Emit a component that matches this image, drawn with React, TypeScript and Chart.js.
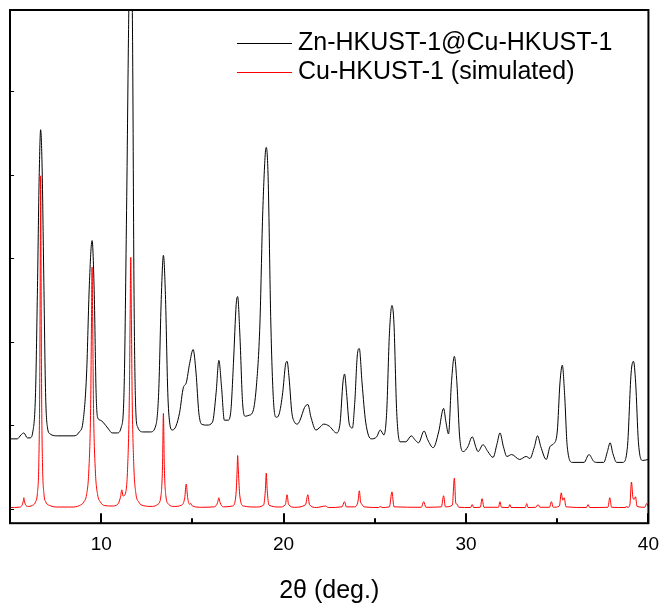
import React, { useEffect, useRef } from "react";
import { Chart, registerables } from "chart.js";

Chart.register(...registerables);

// ---- Data (2θ in degrees, intensity in arbitrary units) ----
const seriesLabels = ["Zn-HKUST-1@Cu-HKUST-1", "Cu-HKUST-1 (simulated)"];
const seriesColors = ["#000000", "#ff0000"];

const measuredTwoTheta = [
  5.0, 5.4, 5.6, 5.76, 5.95, 6.1, 6.25, 6.4, 6.5, 6.6, 6.68, 6.76, 6.85, 6.95, 7.05, 7.2, 7.6, 8.5,
  8.8, 9.0, 9.2, 9.35, 9.5, 9.62, 9.72, 9.8, 9.95, 10.1, 10.4, 10.6, 10.9, 11.1, 11.25, 11.4, 11.5,
  11.62, 11.72, 11.8, 11.9, 12.0, 12.3, 12.7, 13.0, 13.15, 13.3, 13.41, 13.52, 13.65, 13.75, 13.9,
  14.1, 14.3, 14.5, 14.66, 14.85, 15.04, 15.2, 15.35, 15.5, 15.8, 16.1, 16.3, 16.45, 16.6, 16.75,
  16.95, 17.1, 17.25, 17.4, 17.48, 17.6, 17.75, 17.9, 18.1, 18.3, 18.5, 18.7, 18.85, 19.0, 19.05,
  19.15, 19.3, 19.45, 19.6, 19.75, 19.95, 20.1, 20.19, 20.3, 20.45, 20.6, 20.75, 20.9, 21.15, 21.33,
  21.5, 21.77, 22.0, 22.2, 22.5, 22.9, 23.1, 23.25, 23.34, 23.45, 23.6, 23.77, 23.9, 24.05, 24.15,
  24.3, 24.5, 24.8, 25.1, 25.3, 25.5, 25.65, 25.8, 25.94, 26.05, 26.2, 26.38, 26.7, 27.0, 27.2, 27.4,
  27.7, 27.9, 28.2, 28.5, 28.77, 28.9, 29.04, 29.2, 29.36, 29.5, 29.65, 29.85, 30.1, 30.34, 30.55,
  30.66, 30.93, 31.2, 31.48, 31.7, 31.86, 32.05, 32.24, 32.5, 32.94, 33.3, 33.5, 33.75, 33.92, 34.1,
  34.4, 34.6, 34.8, 35.0, 35.15, 35.28, 35.4, 35.55, 35.82, 36.47, 36.74, 37.0, 37.18, 37.55, 37.75,
  37.9, 38.05, 38.26, 38.6, 38.85, 39.05, 39.18, 39.3, 39.45, 39.67, 40.0,
];
const measuredIntensity = [
  835, 835, 882, 906, 847, 847, 918, 1388, 2565, 3976, 4541, 4094, 2800, 1388, 976, 894, 871, 871,
  918, 1035, 1624, 2682, 3212, 2565, 1388, 1094, 1059, 1035, 953, 906, 906, 976, 1388, 3741, 5741,
  7400, 5600, 2565, 1153, 976, 918, 918, 1000, 1388, 2565, 3035, 2565, 1388, 1035, 941,
  988, 1153, 1447, 1506, 1741, 1906, 1624, 1153, 1012, 1000, 1035, 1388, 1776, 1447, 1059,
  1059, 1153, 1741, 2447, 2541, 2094, 1271, 1106, 1118, 1153, 1447, 2212, 3506, 4271, 4329,
  3976, 2212, 1271, 1094, 1129, 1388, 1718, 1765, 1565, 1153, 1035, 1012, 1059, 1212, 1247,
  1094, 941, 976, 1012, 988, 906, 1035, 1506, 1612, 1388, 1012, 965, 1271, 1859, 1918,
  1506, 1035, 835, 859, 941, 882, 1153, 2094, 2435, 2212, 1153, 800, 800, 871, 824, 788,
  929, 824, 729, 918, 1200, 1035, 894, 1506, 1824, 1506, 859, 682, 741, 859, 729,
  682, 765, 682, 612, 776, 906, 741, 624, 647, 588, 624, 600, 741, 871, 741,
  588, 741, 776, 918, 1506, 1718, 1388, 741, 553, 553, 647, 565, 553, 553, 682,
  788, 659, 553, 553, 741, 1624, 1765, 1506, 800, 576, 588,
];

const simulatedTwoTheta = [
  5.0, 5.5, 5.65, 5.72, 5.76, 5.8, 5.88, 6.0, 6.2, 6.4, 6.5, 6.58, 6.63, 6.66, 6.68, 6.7, 6.73, 6.78,
  6.86, 6.96, 7.2, 7.6, 8.4, 8.8, 9.05, 9.2, 9.32, 9.42, 9.47, 9.5, 9.53, 9.58, 9.68, 9.8, 9.95,
  10.2, 10.6, 10.9, 11.05, 11.13, 11.2, 11.35, 11.45, 11.54, 11.59, 11.62, 11.65, 11.7, 11.79, 11.9,
  12.05, 12.3, 12.8, 13.1, 13.28, 13.36, 13.41, 13.46, 13.54, 13.7, 14.0, 14.4, 14.58, 14.66, 14.74,
  14.85, 14.92, 15.0, 15.5, 16.2, 16.38, 16.45, 16.52, 16.7, 17.2, 17.38, 17.45, 17.48, 17.52, 17.6,
  17.8, 18.5, 18.9, 19.0, 19.05, 19.1, 19.2, 19.8, 20.1, 20.19, 20.27, 20.6, 21.2, 21.33, 21.42,
  21.8, 22.3, 22.45, 23.2, 23.34, 23.44, 23.9, 24.08, 24.15, 24.22, 24.3, 24.4, 25.2, 25.3, 25.4,
  25.8, 25.94, 26.05, 27.55, 27.68, 27.8, 28.65, 28.77, 28.87, 29.25, 29.36, 29.44, 29.5, 29.6,
  30.25, 30.34, 30.42, 30.78, 30.88, 30.98, 31.78, 31.86, 31.94, 32.33, 32.4, 32.47, 33.25, 33.33,
  33.4, 33.82, 33.95, 34.05, 34.58, 34.68, 34.78, 35.12, 35.22, 35.3, 35.38, 35.48, 36.6, 36.69,
  36.78, 37.78, 37.88, 37.98, 38.75, 38.8, 38.85, 38.98, 39.07, 39.15, 39.22, 39.29, 39.38, 39.8,
  39.9, 40.0,
];
const simulatedIntensity = [
  12, 16, 35, 80, 129, 80, 35, 25, 35, 80, 180, 550, 1500, 3000, 3988, 3000, 1500, 550,
  180, 80, 35, 18, 18, 35, 80, 170, 450, 1200, 2300, 2894, 2300, 1200, 450, 170, 80,
  35, 30, 50, 130, 224, 150, 200, 500, 1300, 2400, 3012, 2400, 1300, 500, 180,
  80, 35, 25, 50, 160, 500, 1141, 500, 160, 50, 25, 40, 130, 294, 130,
  50, 60, 30, 15, 20, 70, 129, 70, 20, 30, 150, 450, 635, 450, 150,
  30, 18, 40, 220, 424, 220, 40, 18, 50, 165, 50, 15, 45, 165, 45,
  12, 30, 12, 20, 82, 20, 20, 90, 212, 80, 50, 20, 12, 24, 12,
  20, 200, 20, 15, 82, 15, 20, 153, 20, 40, 365, 60, 55, 15,
  12, 47, 12, 15, 118, 15, 15, 82, 15, 12, 47, 12, 12, 59,
  12, 15, 47, 15, 15, 82, 15, 30, 188, 100, 129, 20, 12, 47,
  12, 15, 129, 15, 12, 30, 12, 40, 318, 130, 110, 141, 25, 15,
  59, 20,
];

const xRange = [5, 40];
const yRange = [-176, 5976];
const xMajorTicks = [10, 20, 30, 40];
const xMinorTicks = [15, 25, 35];
const yTicks = [0, 1000, 2000, 3000, 4000, 5000];
const xAxisTitle = "2\u03b8 (deg.)";

const FONT = "'Liberation Sans', Arial, Helvetica, sans-serif";

const framePlugin = {
  id: "frameAndLegend",
  afterDraw(chart: any) {
    const { ctx, chartArea: a, scales } = chart;
    const xs = scales.x;
    const ys = scales.y;
    ctx.save();
    ctx.strokeStyle = "#000";
    ctx.lineWidth = 2;
    ctx.beginPath();
    for (const v of xMajorTicks) {
      const px = Math.round(xs.getPixelForValue(v));
      ctx.moveTo(px, a.bottom);
      ctx.lineTo(px, a.bottom - 10);
    }
    for (const v of xMinorTicks) {
      const px = Math.round(xs.getPixelForValue(v));
      ctx.moveTo(px, a.bottom);
      ctx.lineTo(px, a.bottom - 5);
    }
    ctx.stroke();
    ctx.lineWidth = 1;
    ctx.beginPath();
    for (const v of yTicks) {
      const py = Math.round(ys.getPixelForValue(v)) + 0.5;
      ctx.moveTo(a.left, py);
      ctx.lineTo(a.left + 4, py);
    }
    ctx.stroke();
    ctx.lineWidth = 2;
    ctx.strokeRect(a.left, a.top, a.right - a.left, a.bottom - a.top);

    // legend
    ctx.font = `25px ${FONT}`;
    ctx.textBaseline = "middle";
    ctx.textAlign = "left";
    chart.data.datasets.forEach((ds: any, i: number) => {
      const cy = a.top + 33 + i * 29;
      ctx.strokeStyle = ds.borderColor;
      ctx.lineWidth = 1;
      ctx.beginPath();
      ctx.moveTo(a.left + 227, Math.round(cy) + 0.5);
      ctx.lineTo(a.left + 282, Math.round(cy) + 0.5);
      ctx.stroke();
      ctx.fillStyle = "#000";
      ctx.fillText(ds.label, a.left + 288, cy);
    });
    ctx.restore();
  },
};

export default function App() {
  const ref = useRef<HTMLCanvasElement | null>(null);
  useEffect(() => {
    if (!ref.current) return;
    const toPoints = (xs: number[], ys: number[]) => xs.map((x, i) => ({ x, y: ys[i] }));
    const chart = new Chart(ref.current, {
      type: "line",
      data: {
        datasets: [
          {
            label: seriesLabels[0],
            data: toPoints(measuredTwoTheta, measuredIntensity),
            borderColor: seriesColors[0],
            borderWidth: 1,
            pointRadius: 0,
            cubicInterpolationMode: "monotone",
            fill: false,
          },
          {
            label: seriesLabels[1],
            data: toPoints(simulatedTwoTheta, simulatedIntensity),
            borderColor: seriesColors[1],
            borderWidth: 1,
            pointRadius: 0,
            cubicInterpolationMode: "monotone",
            fill: false,
          },
        ],
      },
      options: {
        responsive: false,
        animation: false,
        layout: { padding: { left: 10, right: 14, top: 10, bottom: 2 } },
        plugins: { legend: { display: false }, tooltip: { enabled: false } },
        scales: {
          x: {
            type: "linear",
            min: xRange[0],
            max: xRange[1],
            afterBuildTicks: (axis: any) => {
              axis.ticks = xMajorTicks.map((v) => ({ value: v }));
            },
            grid: { display: false, drawTicks: false },
            border: { display: false },
            ticks: {
              color: "#000",
              padding: 10,
              font: { family: FONT, size: 19 },
              maxRotation: 0,
            },
            title: {
              display: true,
              text: xAxisTitle,
              color: "#000",
              font: { family: FONT, size: 25, lineHeight: 1 },
              padding: { top: 13, bottom: 0 },
            },
          },
          y: {
            type: "linear",
            display: false,
            min: yRange[0],
            max: yRange[1],
          },
        },
      },
      plugins: [framePlugin],
    });
    return () => chart.destroy();
  }, []);
  return (
    <div style={{ position: "absolute", left: 0, top: 0, width: 669, height: 606, background: "#fff" }}>
      <canvas ref={ref} width={669} height={606} style={{ width: 669, height: 606, display: "block" }} />
    </div>
  );
}
